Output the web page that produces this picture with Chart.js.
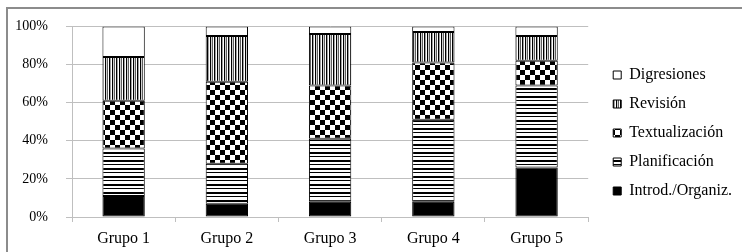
<!DOCTYPE html>
<html><head><meta charset="utf-8">
<script src="https://cdn.jsdelivr.net/npm/chart.js@4"></script>
<style>
html,body{margin:0;padding:0;background:#fff;overflow:hidden;}
#wrap{position:relative;width:742px;height:252px;}
#frame{position:absolute;left:6px;top:7px;width:800px;height:300px;border-left:2px solid #8c8c8c;border-top:2px solid #8c8c8c;}
canvas{position:absolute;left:0;top:0;}
</style></head><body>
<div id="wrap"><div id="frame"></div><canvas id="c" width="742" height="252"></canvas></div>
<script>
const categories = ['Grupo 1','Grupo 2','Grupo 3','Grupo 4','Grupo 5'];
const seriesNames = ['Introd./Organiz.','Planificación','Textualización','Revisión','Digresiones'];
const introdOrganiz = [11, 7, 8, 8, 26];
const planificacion = [25, 21, 33, 43, 43];
const textualizacion = [25, 43, 28, 30, 13];
const revision = [23, 24, 27, 16, 13];
const digresiones = [16, 5, 4, 3, 5];
const yTickValues = [0, 20, 40, 60, 80, 100];

const ctx = document.getElementById('c').getContext('2d');
function makePattern(w, h, draw) {
  const c = document.createElement('canvas');
  c.width = w; c.height = h;
  const x = c.getContext('2d');
  x.fillStyle = '#fff'; x.fillRect(0, 0, w, h);
  draw(x);
  return ctx.createPattern(c, 'repeat');
}
const patHoriz = makePattern(8, 8, x => {
  x.fillStyle = '#000';
  x.fillRect(0, 0, 8, 2);
  x.fillRect(0, 4, 8, 1);
});
const patChecker = makePattern(10, 10, x => {
  x.fillStyle = '#000';
  x.fillRect(0, 0, 5, 5);
  x.fillRect(5, 5, 5, 5);
});
const patVert = makePattern(7, 7, x => {
  const cols = ['#000', '#d0d0d0', '#606060', '#fff', '#000', '#a0a0a0', '#fff'];
  cols.forEach((c, i) => { x.fillStyle = c; x.fillRect(i, 0, 1, 7); });
});
const fills = ['#000', patHoriz, patChecker, patVert, '#fff'];
const seriesData = [introdOrganiz, planificacion, textualizacion, revision, digresiones];

const serif = "'Liberation Serif', 'Times New Roman', serif";
const gridGray = '#bfbfbf';

new Chart(ctx, {
  type: 'bar',
  data: {
    labels: categories,
    datasets: seriesNames.map((n, i) => ({
      label: n,
      data: seriesData[i],
      backgroundColor: fills[i],
      borderColor: '#000',
      borderWidth: 1,
      borderSkipped: false,
      barPercentage: 0.41,
      categoryPercentage: 1.0
    }))
  },
  options: {
    responsive: false,
    animation: false,
    devicePixelRatio: 1,
    layout: { padding: { left: 0, top: 18, right: 0, bottom: 4 } },
    plugins: {
      tooltip: { enabled: false },
      legend: {
        position: 'right',
        reverse: true,
        labels: {
          font: { family: serif, size: 16 },
          color: '#000',
          boxWidth: 8,
          boxHeight: 8,
          padding: 13
        }
      }
    },
    scales: {
      x: {
        stacked: true,
        offset: true,
        grid: { display: true, drawOnChartArea: false, drawTicks: true, tickLength: 5, color: gridGray, offset: true },
        border: { display: true, color: gridGray },
        ticks: { font: { family: serif, size: 16 }, color: '#000', padding: 7 },
        afterFit: s => { s.height = 31; }
      },
      y: {
        stacked: true,
        min: 0,
        max: 100,
        afterBuildTicks: s => { s.ticks = yTickValues.map(v => ({ value: v })); },
        grid: { color: gridGray, tickLength: 6, drawTicks: true },
        border: { display: true, color: gridGray },
        ticks: { font: { family: serif, size: 14 }, color: '#000', padding: 18, callback: v => v + '%' },
        afterFit: s => { s.width = 72; }
      },
      yR: {
        position: 'right',
        display: false,
        afterFit: s => { s.width = 12; }
      }
    }
  }
});
</script>
</body></html>
